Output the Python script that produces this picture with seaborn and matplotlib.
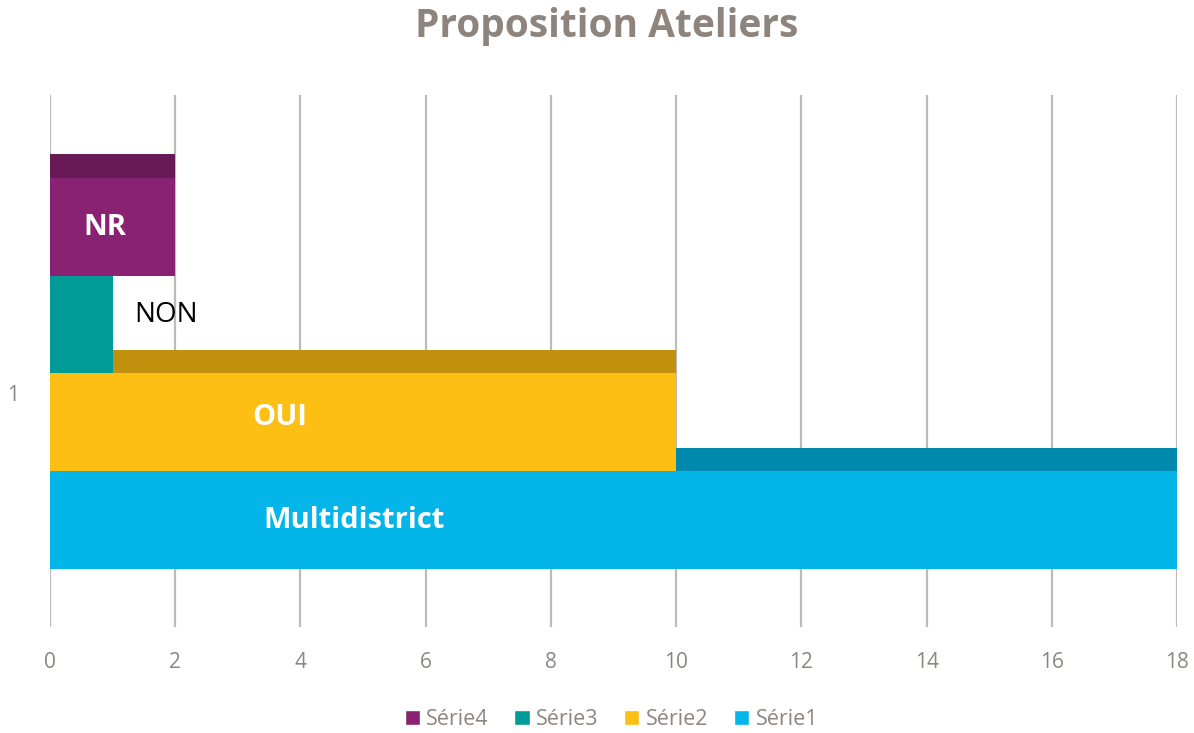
import numpy as np
import pandas as pd
import matplotlib
matplotlib.use('Agg')
import matplotlib.pyplot as plt
from matplotlib.patches import Patch
import seaborn as sns

# données
series = ['Série4', 'Série3', 'Série2', 'Série1']
valeurs = [2, 1, 10, 18]
etiquettes = ['NR', 'NON', 'OUI', 'Multidistrict']
couleurs = ['#8A2273', '#009A97', '#FDBF14', '#03B5E8']
couleurs_dessus = ['#671A56', '#007371', '#C1900C', '#0088AD']

df = pd.DataFrame({'serie': series, 'valeur': valeurs})

sns.set_style("white")
plt.rcParams['font.family'] = ['Open Sans', 'DejaVu Sans']

fig = plt.figure(figsize=(11.94, 7.33), dpi=100)
ax = fig.add_axes([0.0419, 0.1446, 0.9439, 0.7258])

# face supérieure (effet 3D) dessinée en premier
prof = 0.25
h = 1.0
for i, (v, c) in enumerate(zip(valeurs, couleurs_dessus)):
    ax.barh(i - h / 2 - prof / 2 + 0.01, v, height=prof, color=c, linewidth=0, zorder=2)

sns.barplot(data=df, x='valeur', y='serie', hue='serie', palette=couleurs,
            width=h, legend=False, ax=ax, zorder=3, linewidth=0, saturation=1)

# étiquettes dans les barres
ax.text(0.88, 0.01, etiquettes[0], color='white', fontsize=21, fontweight='bold',
        ha='center', va='center', zorder=5)
ax.text(1.85, 0.9, etiquettes[1], color='black', fontsize=20,
        ha='center', va='center', zorder=5)
ax.text(3.67, 1.95, etiquettes[2], color='white', fontsize=21, fontweight='bold',
        ha='center', va='center', zorder=5)
ax.text(4.86, 3.0, etiquettes[3], color='white', fontsize=21, fontweight='bold',
        ha='center', va='center', zorder=5)

ax.set_xlim(0, 18)
ax.set_xticks(np.arange(0, 19, 2))
ax.set_ylim(4.087, -1.342)
ax.set_yticks([1.70], ['1'])
ax.grid(axis='x', color='#BFBBB8', linewidth=1.6, zorder=0)
ax.set_axisbelow(True)
ax.tick_params(axis='both', length=0, labelsize=15, labelcolor='#8C8580')
ax.tick_params(axis='x', pad=18)
ax.tick_params(axis='y', pad=22)
ax.set_xlabel('')
ax.set_ylabel('')
for s in ax.spines.values():
    s.set_visible(False)

fig.suptitle('Proposition Ateliers', x=0.508, y=0.99, fontsize=28,
             fontweight='bold', color='#8E847E')

handles = [Patch(facecolor=c, label=s) for s, c in zip(series, couleurs)]
leg = fig.legend(handles=handles, loc='center', bbox_to_anchor=(0.512, 0.019),
                 ncol=4, frameon=False, fontsize=15.5, handlelength=0.7,
                 handleheight=0.7, handletextpad=0.3, columnspacing=1.2)
for t in leg.get_texts():
    t.set_color('#8C8580')

plt.savefig('out.png', dpi=100)
